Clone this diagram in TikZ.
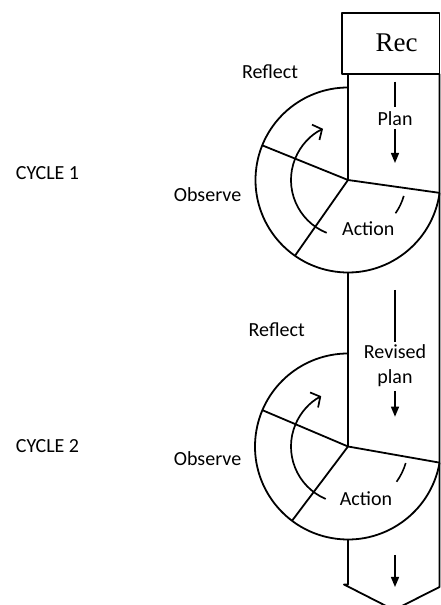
\documentclass[tikz,border=0pt]{standalone}
\usepackage{fontspec}
\setmainfont{Liberation Serif}
\newfontfamily\lblfont{Carlito}
\usetikzlibrary{arrows.meta}

\begin{document}
\begin{tikzpicture}[x=1pt,y=1pt,
  lbl/.style={text=drawColor,anchor=center,inner sep=0pt,outer sep=0pt,font=\lblfont\fontsize{20}{25}\selectfont},
  rim/.style={draw=drawColor,line width=1.8pt,line join=round},
  flowline/.style={draw=drawColor,line width=1.4pt},
  flow/.style={flowline,-{Triangle[width=8pt,length=10pt]}},
  turn/.style={draw=drawColor,line width=1.7pt,-{Straight Barb[length=7pt,width=17pt]}}]
\definecolor{fillColor}{RGB}{255,255,255}
\definecolor{drawColor}{RGB}{0,0,0}
\path[use as bounding box,fill=fillColor] (0,0) rectangle (441,605);
\begin{scope}
\path[clip] (0,0) rectangle (441,605);

% box and column
\path[rim] (342.3,531.0) rectangle (439.5,592.3);
\node[text=drawColor,inner sep=0pt,font=\fontsize{27}{30}\selectfont] (rec) at (396.7,562.3) {Rec};

\coordinate (c1) at (348.0,425.0);
\coordinate (c2) at (348.0,158.5);

\path[rim] (348.0,531.0) -- (c1);
\path[rim] (348.0,332.5) -- (c2);
\path[rim] (348.0, 65.5) -- (348.0, 20.5) -- (344.0, 20.5) -- (394.0,-5.0) --
	(439.5, 18.0) -- (439.5,531.0);

% cycle 1
\path[rim] (c1) ++(-8:92.5) arc[start angle=-8,end angle=-270,radius=92.5];
\path[rim] (c1) -- ++(-8:92.5);
\path[rim] (c1) -- ++(158:92.5);
\path[rim] (c1) -- ++(235:92.5);
\path[turn] (c1) ++(248:57) arc[start angle=248,end angle=116,radius=57];
\path[rim,line width=1.6pt] (c1) ++(-16:58) arc[start angle=-16,end angle=-35,radius=58];

% cycle 2
\path[rim] (c2) ++(-10:93) arc[start angle=-10,end angle=-270,radius=93];
\path[rim] (c2) -- ++(-10:93);
\path[rim] (c2) -- ++(157:93);
\path[rim] (c2) -- ++(233:93);
\path[turn] (c2) ++(247:57) arc[start angle=247,end angle=118,radius=57];
\path[rim,line width=1.6pt] (c2) ++(-16:60) arc[start angle=-16,end angle=-36,radius=60];

% labels, cycle 1
\node[lbl] (cyc1) at ( 47.5,432.3) {CYCLE 1};
\node[lbl] (refl1) at (270.0,533.0) {Reflect};
\node[lbl] (obs1) at (207.5,410.0) {Observe};
\node[lbl] (act1) at (368.3,376.7) {Action};
\node[lbl] (plan) at (395.0,486.7) {Plan};

% labels, cycle 2
\node[lbl] (cyc2) at ( 47.5,159.0) {CYCLE 2};
\node[lbl] (refl2) at (276.7,275.0) {Reflect};
\node[lbl] (obs2) at (207.5,146.7) {Observe};
\node[lbl] (act2) at (366.0,106.7) {Action};
\node[lbl,align=center] (rplan) at (395.0,239.2) {Revised\\plan};

% downward arrows
\coordinate (plantop) at (395.0,523.3);
\coordinate (planend) at (395.0,442.0);
\coordinate (rplantop) at (395.0,315.0);
\coordinate (rplanend) at (395.0,188.3);
\coordinate (downtop) at (395.0, 50.0);
\coordinate (downend) at (395.0, 18.0);

\path[flowline,shorten >=4pt] (plantop) -- (plan.north);
\path[flow,shorten <=4pt] (plan.south) -- (planend);
\path[flowline,shorten >=3pt] (rplantop) -- (rplan.north);
\path[flow,shorten <=4pt] (rplan.south) -- (rplanend);
\path[flow] (downtop) -- (downend);
\end{scope}
\end{tikzpicture}
\end{document}
